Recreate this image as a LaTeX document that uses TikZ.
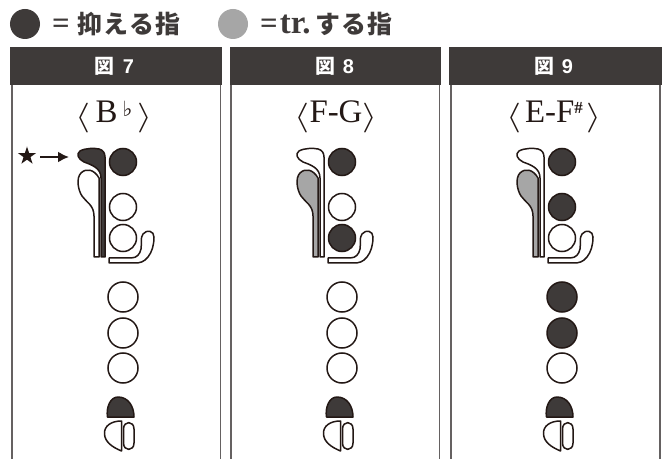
\documentclass[tikz,border=0pt]{standalone}
\usepackage{fontspec}
\usepackage{graphicx}
\usetikzlibrary{shapes.geometric,arrows.meta}
\setmainfont{Liberation Serif}
\newfontfamily\jpfont{Noto Sans CJK JP}
\newfontfamily\headfont{Liberation Sans}
\newfontfamily\symfont{DejaVu Sans}
\definecolor{ink}{HTML}{3E3A39}
\definecolor{trgray}{HTML}{A6A6A6}
\definecolor{rim}{HTML}{231815}
\tikzset{
  x=1bp,y=-1bp,
  keyline/.style={draw=rim,line width=1.5bp,line join=round},
  hole/.style={circle,draw=rim,line width=1.5bp,inner sep=0pt,minimum size=#1,fill=white},
  legend/.style={anchor=west,inner sep=0pt,text=ink,font=\jpfont\bfseries\fontsize{25}{25}\selectfont},
  headbar/.style={fill=ink},
  sideline/.style={draw=ink!80,line width=1.6bp},
  headlabel/.style={text=white,font=\headfont\bfseries\fontsize{20}{20}\selectfont},
  notelabel/.style={text=rim,font=\fontsize{33}{33}\selectfont},
  pics/fingering/.style n args={7}{code={
    \path[keyline,fill=#1] (101,257) -- (101,178) .. controls (101,168) and (92,165) .. (84,162)
      .. controls (78,159) and (76,154) .. (80,151) .. controls (85,148) and (95,148) .. (99,149)
      .. controls (103,150) and (105,153) .. (105,157) -- (105,257) -- cycle;
    \path[keyline,fill=#2] (94,257) -- (94,216) .. controls (94,205) and (86,202) .. (82,196)
      .. controls (78,190) and (76,178) .. (81,173) .. controls (86,168) and (94,169) .. (99,178)
      -- (99,257) -- cycle;
    \path[keyline,fill=white] (109,258) -- (131,258) .. controls (137,258) and (140,254) .. (141,249)
      .. controls (142,244) and (140,238) .. (143,234) .. controls (147,229) and (154,231) .. (154,237)
      .. controls (154,245) and (152,252) .. (148,257) .. controls (144,262) and (140,263) .. (135,263)
      -- (109,263) -- cycle;
    \node[hole=27bp,fill=#3] at (123,162) {};
    \node[hole=27bp,fill=#4] at (123,207) {};
    \node[hole=27bp,fill=#5] at (123,238) {};
    \node[hole=30bp,fill=#6] at (123,297) {};
    \node[hole=30bp,fill=#7] at (123,333) {};
    \node[hole=30bp,fill=white] at (123,368) {};
    \path[keyline,fill=ink] (107.5,417) .. controls (106,408) and (110,397) .. (118,397)
      .. controls (128,397) and (134,406) .. (134,417) -- cycle;
    \path[keyline,fill=white] (121.5,421) -- (121.5,451) .. controls (112,447) and (105,442) .. (104.5,434)
      .. controls (104,426) and (111,421) .. (121.5,421) -- cycle;
    \path[keyline,fill=white] (123.5,429) .. controls (123.5,420.5) and (134,420.5) .. (134,429)
      -- (134,443) .. controls (134,451.5) and (123.5,451.5) .. (123.5,443) -- cycle;
  }}
}
\newcommand{\eqsign}{{\fontspec{Liberation Serif}\fontsize{31}{25}\selectfont=}}
\newcommand{\lbrk}[1]{\raisebox{-3.2bp}{\scalebox{1.55}[1.2]{$\langle$}}\hspace{#1}}
\newcommand{\rbrk}[1]{\hspace{#1}\raisebox{-3.2bp}{\scalebox{1.55}[1.2]{$\rangle$}}}
\begin{document}
\begin{tikzpicture}
\useasboundingbox (0,0) rectangle (662,459);
\fill[white] (0,0) rectangle (662,459);
\node[circle,fill=ink,minimum size=30bp,inner sep=0pt] (legendA) at (25,24) {};
\node[legend] (legendAtext) at (52,24) {\makebox[25bp][l]{\eqsign}抑\hspace{1.3bp}え\hspace{1.3bp}る\hspace{1.3bp}指};
\node[circle,fill=trgray,minimum size=30bp,inner sep=0pt] (legendB) at (233,24) {};
\node[legend] (legendBtext) at (260,24) {\eqsign\hspace{2bp}{\fontspec{Liberation Serif}\fontsize{33}{25}\selectfont tr.}\hspace{5bp}す\hspace{1.3bp}る\hspace{1.3bp}指};
\foreach \a/\b/\hl/\hr in {12/220.5/10/222,231/439.5/230/441,451/660/449/662}{
  \draw[sideline] (\a,85) -- (\a,459);
  \draw[sideline] (\b,85) -- (\b,459);
  \fill[headbar] (\hl,47) rectangle (\hr,85);
}
\node[headlabel] (h7) at (114.5,66) {{\jpfont 図}\hspace{8bp}7};
\node[headlabel] (h8) at (334.5,66) {{\jpfont 図}\hspace{8bp}8};
\node[headlabel] (h9) at (553.5,66) {{\jpfont 図}\hspace{8bp}9};
\node[notelabel] (n7) at (114,117) {\lbrk{5bp}B\hspace{5bp}\raisebox{6bp}{\symfont\bfseries\fontsize{21}{21}\selectfont ♭}\rbrk{5bp}};
\node[notelabel] (n8) at (336,117) {\lbrk{0bp}F-G\rbrk{0bp}};
\node[notelabel] (n9) at (554,117) {\lbrk{4bp}E-F\raisebox{9bp}{\fontsize{17}{17}\selectfont\bfseries\#}\rbrk{4bp}};
\pic at (0,0) {fingering={ink}{white}{ink}{white}{white}{white}{white}};
\pic at (219,0) {fingering={white}{trgray}{ink}{white}{ink}{white}{white}};
\pic at (439,0) {fingering={white}{trgray}{ink}{ink}{white}{ink}{ink}};
\node[star,star points=5,star point ratio=2.6,fill=rim,minimum size=19bp,inner sep=0pt] (starmark) at (27,156) {};
\coordinate (arrowstart) at (40,157);
\coordinate (arrowend) at (69,157);
\draw[rim,line width=2bp,-{Latex[length=11bp,width=11bp]}] (arrowstart) -- (arrowend);
\end{tikzpicture}
\end{document}
